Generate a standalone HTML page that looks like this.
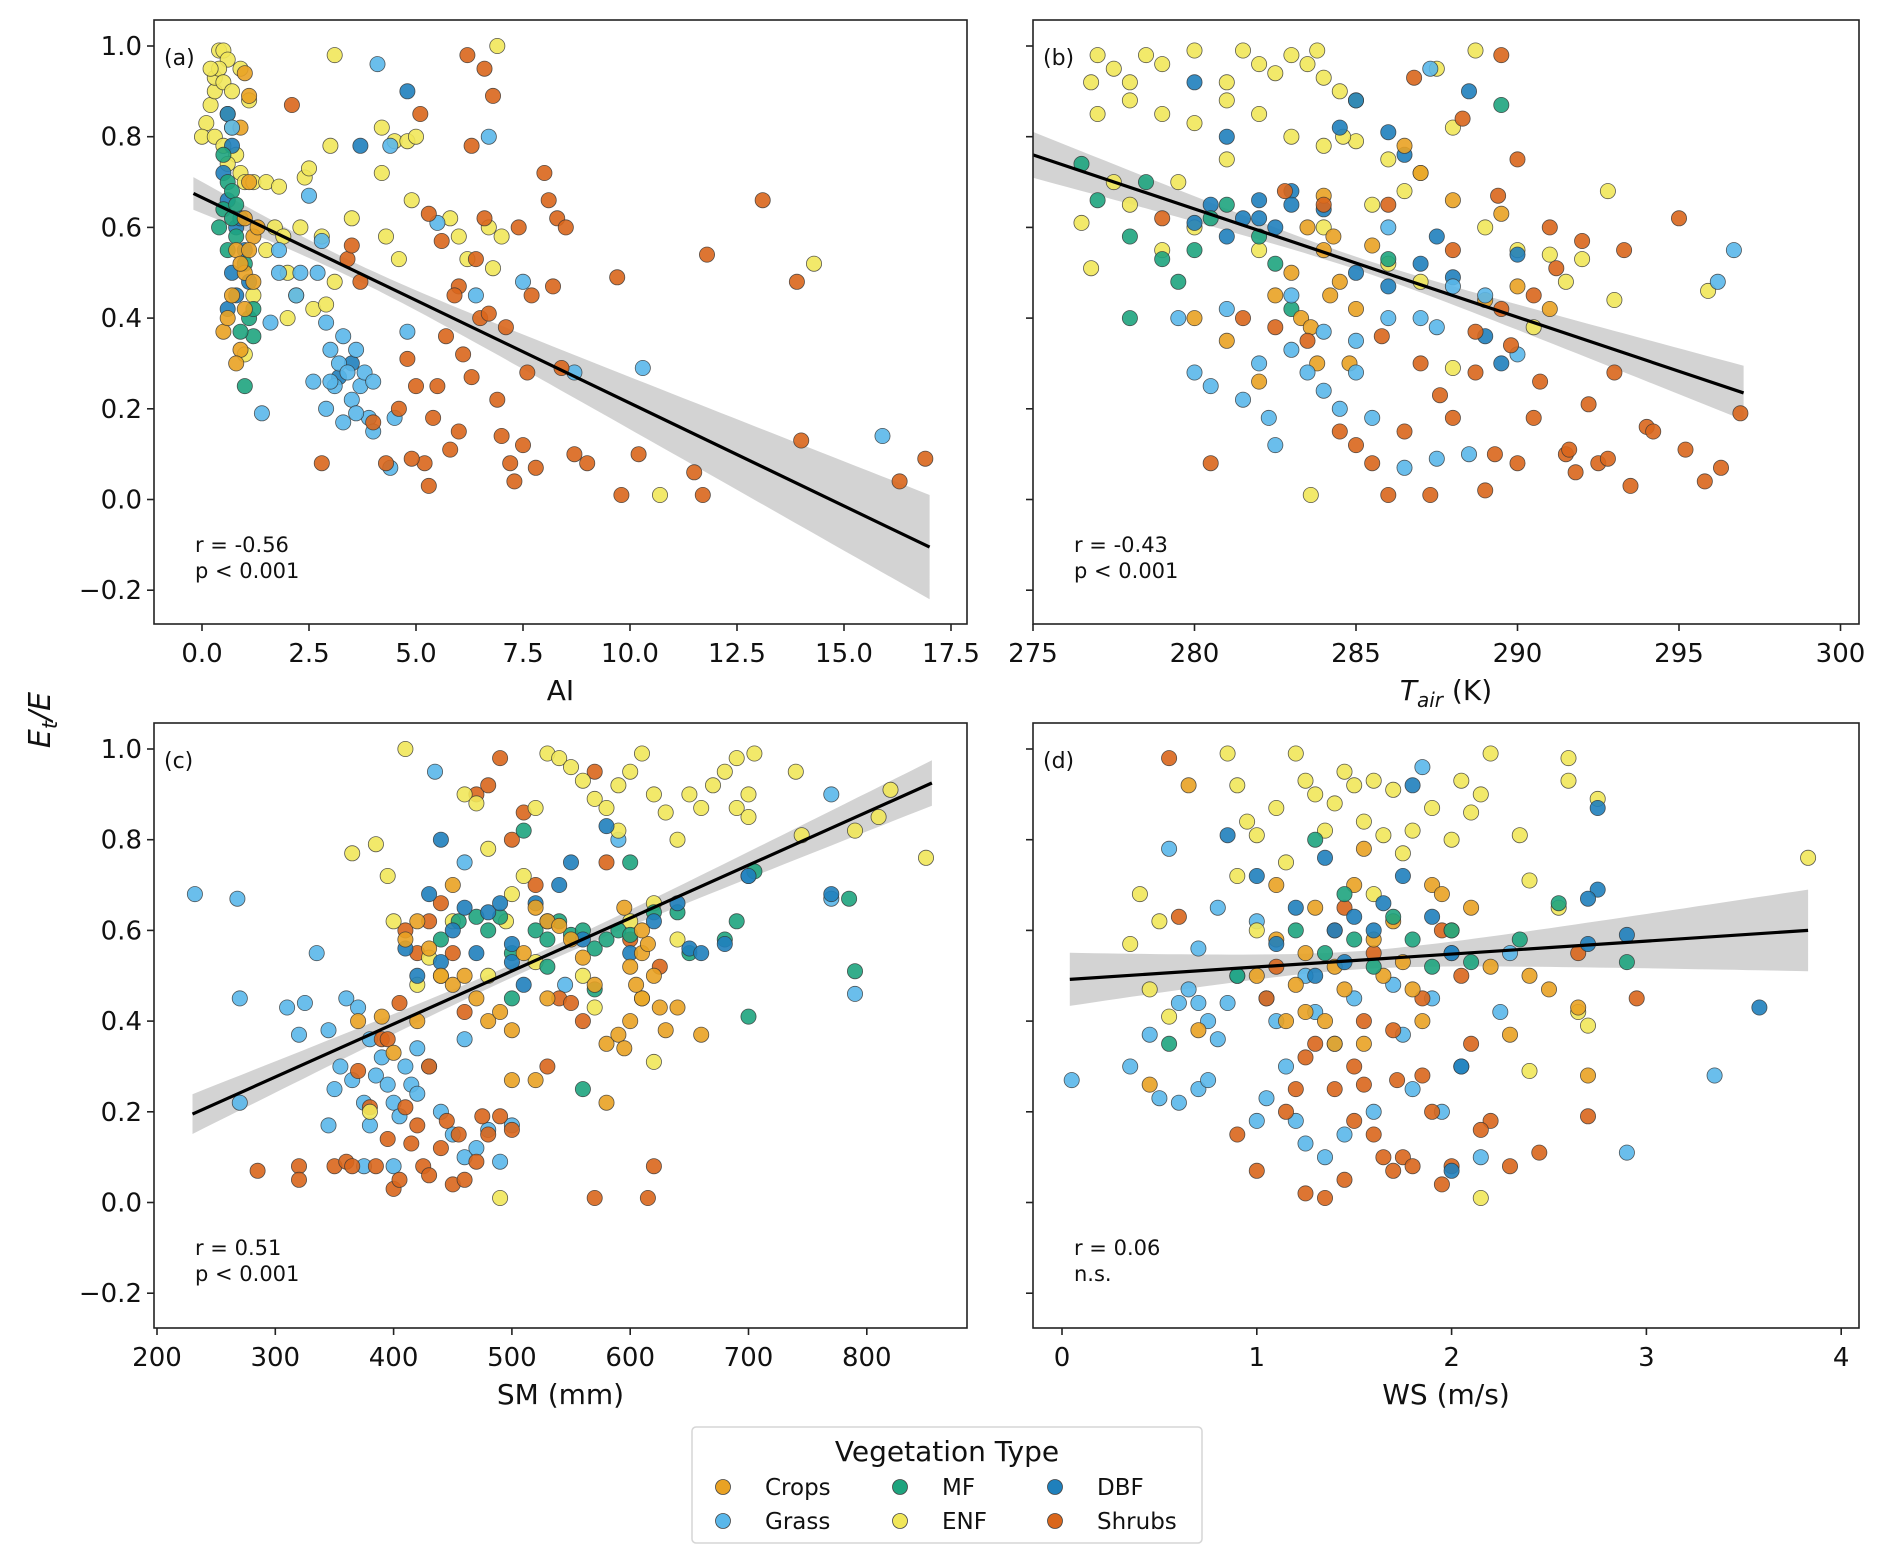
<!DOCTYPE html>
<html><head><meta charset="utf-8"><style>
body{margin:0;background:#fff;}
svg{display:block;font-family:"DejaVu Sans","Liberation Sans",sans-serif;}
</style></head><body>
<svg id="chart" width="1892" height="1565" viewBox="0 0 1892 1565" xmlns="http://www.w3.org/2000/svg"></svg>
<script>
// ---- data (x, y, category code) ----
const catCodes = ["G","C","M","D","E","S"];
const catNames = {C:"Crops",G:"Grass",M:"MF",E:"ENF",D:"DBF",S:"Shrubs"};
const catColors = {C:"#e9a224",G:"#5ab7ea",M:"#1ea47e",E:"#f1e75a",D:"#1f80bc",S:"#d9661c"};

const aX = [0.1,0.0,0.2,0.3,0.3,0.4,0.5,0.6,0.4,0.5,0.7,0.6,0.7,0.3,0.5,0.8,0.9,1.0,1.2,1.5,1.8,2.4,2.5,3.0,3.1,4.2,4.5,4.8,5.0,4.2,1.1,0.9,1.5,1.7,2.0,2.2,2.6,2.9,3.1,1.2,1.0,4.6,4.9,5.8,6.2,6.8,6.7,6.9,7.0,10.7,14.3,2.8,3.5,4.3,2.0,1.9,6.0,0.2,0.9,0.6,2.3,
0.6,0.7,0.5,0.8,1.0,0.7,0.6,0.9,1.1,3.7,4.8,0.6,0.8,3.5,3.2,
0.5,0.6,0.7,0.5,0.8,1.0,0.6,1.1,1.2,0.9,1.0,0.8,0.7,1.2,0.4,
1.0,1.1,0.9,1.1,1.0,1.2,0.8,1.0,0.7,1.0,0.5,0.9,1.2,1.3,0.8,0.6,1.1,0.9,
1.4,0.7,1.6,1.8,2.2,2.5,2.8,3.9,2.9,3.1,3.2,3.4,3.5,3.6,3.0,3.3,3.7,3.8,4.0,3.3,2.6,3.6,4.1,4.4,6.7,5.5,6.4,7.5,4.5,4.4,4.8,8.7,10.3,15.9,2.3,1.8,4.0,3.0,2.9,2.7,
2.1,2.8,3.4,3.5,3.7,4.0,4.3,4.6,4.8,5.0,5.1,5.3,5.4,5.6,5.8,6.0,6.1,6.2,6.3,6.5,6.6,6.7,6.8,6.9,7.0,7.2,7.3,7.4,7.5,7.6,7.8,8.0,8.1,8.3,8.5,8.2,8.7,9.0,9.7,9.8,10.2,11.5,11.7,11.8,13.1,13.9,14.0,16.3,16.9,5.2,5.5,6.0,4.9,6.4,5.7,6.3,8.4,7.1,5.9,5.3,6.6,7.7];
const aY = [0.83,0.80,0.87,0.90,0.93,0.99,0.99,0.97,0.95,0.92,0.90,0.85,0.82,0.80,0.78,0.76,0.72,0.70,0.70,0.70,0.69,0.71,0.73,0.78,0.98,0.82,0.79,0.79,0.80,0.72,0.88,0.62,0.55,0.60,0.50,0.45,0.42,0.43,0.48,0.45,0.32,0.53,0.66,0.62,0.53,0.51,0.60,1.0,0.58,0.01,0.52,0.58,0.62,0.58,0.40,0.58,0.58,0.95,0.95,0.74,0.60,
0.85,0.78,0.72,0.60,0.55,0.50,0.42,0.62,0.48,0.78,0.90,0.66,0.45,0.30,0.27,
0.76,0.70,0.68,0.64,0.58,0.52,0.55,0.40,0.36,0.37,0.25,0.65,0.62,0.42,0.60,
0.94,0.89,0.82,0.70,0.62,0.58,0.55,0.50,0.45,0.42,0.37,0.33,0.48,0.60,0.30,0.40,0.55,0.52,
0.19,0.82,0.39,0.55,0.45,0.67,0.57,0.18,0.20,0.25,0.30,0.28,0.22,0.33,0.33,0.36,0.25,0.28,0.26,0.17,0.26,0.19,0.96,0.78,0.80,0.61,0.45,0.48,0.18,0.07,0.37,0.28,0.29,0.14,0.50,0.50,0.15,0.26,0.39,0.50,
0.87,0.08,0.53,0.56,0.48,0.17,0.08,0.20,0.31,0.25,0.85,0.63,0.18,0.57,0.11,0.47,0.32,0.98,0.78,0.40,0.95,0.41,0.89,0.22,0.14,0.08,0.04,0.60,0.12,0.28,0.07,0.72,0.66,0.62,0.60,0.47,0.10,0.08,0.49,0.01,0.10,0.06,0.01,0.54,0.66,0.48,0.13,0.04,0.09,0.08,0.25,0.15,0.09,0.53,0.36,0.27,0.29,0.38,0.45,0.03,0.62,0.45];
const aC = "E".repeat(61)+"D".repeat(15)+"M".repeat(15)+"C".repeat(18)+"G".repeat(40)+"S".repeat(62);

const bX = [277,277.5,278,278.5,279,280,281.5,282,282.5,281,283,283.5,284,284.5,285,283.8,276.8,277,278,279,280,281,282,283,284,285,286,287,276.5,276.8,277.5,278,279,280,282,284,286,287,288,288.7,289,290,291,292,292.8,293,295.9,288,283.6,290.5,291.5,281,279.5,285.5,286.5,287.5,284.6,
280,281,280.5,281.5,282,282.5,283,284,284.5,285,286,286.5,287,287.5,288,288.5,289,290,283,282,281,280,286,289.5,285,
276.5,277,278,278.5,279,279.5,280,280.5,281,282,278,282.5,289.5,283,286,
282.5,283,283.3,283.6,284,284.2,283.8,284.5,285,283.5,284.3,286.5,287,288,289,290,291,281,280,284,285.5,282,284.8,289.5,
279.5,280,280.5,281,282,282.3,282.5,283,283.5,284,284.5,285,285.5,286,287,287.5,286.5,287.5,288.5,289,290,296.7,296.2,287.3,286,284,281.5,283,285,288,
279,280.5,281.5,282.5,283.5,284.5,285,285.5,286,286.5,287,287.3,288,288.3,288.7,289,289.3,289.5,289.8,290,290,290.5,291,291.5,291.8,292,292.2,292.5,293,293.3,293.5,294,295,295.2,295.8,296.3,296.9,289.5,290.5,288,286,284,282.8,286.8,290.7,291.2,289.4,288.7,285.8,287.6,291.6,292.8,294.2];
const bY = [0.98,0.95,0.92,0.98,0.96,0.99,0.99,0.96,0.94,0.92,0.98,0.96,0.93,0.90,0.88,0.99,0.92,0.85,0.88,0.85,0.83,0.88,0.85,0.80,0.78,0.79,0.75,0.72,0.61,0.51,0.70,0.65,0.55,0.60,0.55,0.60,0.52,0.48,0.82,0.99,0.60,0.55,0.54,0.53,0.68,0.44,0.46,0.29,0.01,0.38,0.48,0.75,0.70,0.65,0.68,0.95,0.80,
0.92,0.80,0.65,0.62,0.66,0.60,0.68,0.64,0.82,0.88,0.81,0.76,0.52,0.58,0.49,0.90,0.36,0.54,0.65,0.62,0.58,0.61,0.47,0.30,0.50,
0.74,0.66,0.58,0.70,0.53,0.48,0.55,0.62,0.65,0.58,0.40,0.52,0.87,0.42,0.53,
0.45,0.50,0.40,0.38,0.55,0.45,0.30,0.48,0.42,0.60,0.58,0.78,0.72,0.66,0.44,0.47,0.42,0.35,0.40,0.67,0.56,0.26,0.30,0.63,
0.40,0.28,0.25,0.42,0.30,0.18,0.12,0.33,0.28,0.24,0.20,0.35,0.18,0.40,0.40,0.38,0.07,0.09,0.10,0.45,0.32,0.55,0.48,0.95,0.60,0.37,0.22,0.45,0.28,0.47,
0.62,0.08,0.40,0.38,0.35,0.15,0.12,0.08,0.01,0.15,0.30,0.01,0.18,0.84,0.28,0.02,0.10,0.98,0.34,0.75,0.08,0.18,0.60,0.10,0.06,0.57,0.21,0.08,0.28,0.55,0.03,0.16,0.62,0.11,0.04,0.07,0.19,0.42,0.45,0.55,0.65,0.65,0.68,0.93,0.26,0.51,0.67,0.37,0.36,0.23,0.11,0.09,0.15];
const bC = "E".repeat(57)+"D".repeat(25)+"M".repeat(15)+"C".repeat(24)+"G".repeat(30)+"S".repeat(53);

const cX = [232,268,270,270,310,320,325,335,345,350,355,360,365,370,375,380,385,390,395,400,405,410,415,420,430,440,450,460,470,480,490,500,380,400,435,460,700,770,790,770,545,345,375,420,460,590,
285,320,320,350,360,370,380,385,390,395,400,405,410,415,420,425,430,440,445,450,455,460,470,475,480,490,500,410,420,430,440,450,470,480,490,500,510,530,540,550,560,570,570,580,600,615,620,625,520,460,395,365,430,405,
365,385,395,400,410,420,430,440,450,460,470,480,490,495,500,510,520,530,540,550,560,570,580,590,600,610,620,630,640,650,660,670,680,690,700,705,690,700,740,745,790,810,820,850,620,600,570,560,610,620,480,380,590,640,520,
440,455,470,480,490,500,510,520,530,540,550,560,570,580,590,600,620,640,650,680,690,700,705,785,790,570,560,600,500,530,
410,420,430,440,450,460,470,480,490,500,510,520,530,540,550,560,580,600,620,640,650,660,680,700,770,440,500,
410,420,430,440,450,460,470,480,490,500,510,520,530,540,550,560,570,580,590,600,610,620,630,640,660,580,500,520,610,595,600,605,615,595,610,625,450,420,400,530,390,370];
const cY = [0.68,0.67,0.45,0.22,0.43,0.37,0.44,0.55,0.38,0.25,0.30,0.45,0.27,0.43,0.22,0.36,0.28,0.32,0.26,0.22,0.19,0.30,0.26,0.24,0.30,0.20,0.15,0.10,0.12,0.16,0.09,0.17,0.17,0.08,0.95,0.75,0.72,0.67,0.46,0.90,0.48,0.17,0.08,0.34,0.36,0.80,
0.07,0.08,0.05,0.08,0.09,0.29,0.21,0.08,0.36,0.14,0.03,0.05,0.21,0.13,0.17,0.08,0.06,0.12,0.18,0.04,0.15,0.05,0.09,0.19,0.15,0.19,0.16,0.60,0.55,0.62,0.66,0.55,0.90,0.92,0.98,0.80,0.86,0.30,0.45,0.44,0.40,0.01,0.95,0.75,0.58,0.01,0.08,0.52,0.70,0.42,0.36,0.08,0.30,0.44,
0.77,0.79,0.72,0.62,1.0,0.48,0.54,0.50,0.62,0.90,0.88,0.78,0.01,0.62,0.68,0.72,0.87,0.99,0.98,0.96,0.93,0.89,0.87,0.92,0.95,0.99,0.90,0.86,0.80,0.90,0.87,0.92,0.95,0.98,0.90,0.99,0.87,0.85,0.95,0.81,0.82,0.85,0.91,0.76,0.66,0.62,0.43,0.50,0.45,0.31,0.50,0.20,0.82,0.58,0.53,
0.58,0.62,0.63,0.60,0.63,0.55,0.82,0.60,0.52,0.62,0.59,0.60,0.56,0.58,0.60,0.59,0.64,0.64,0.55,0.58,0.62,0.41,0.73,0.67,0.51,0.47,0.25,0.75,0.45,0.58,
0.56,0.50,0.68,0.80,0.60,0.65,0.55,0.64,0.66,0.53,0.48,0.66,0.62,0.70,0.75,0.58,0.83,0.55,0.62,0.66,0.56,0.55,0.57,0.72,0.68,0.53,0.57,
0.58,0.40,0.56,0.50,0.48,0.50,0.45,0.40,0.42,0.38,0.55,0.65,0.62,0.61,0.58,0.54,0.48,0.35,0.37,0.40,0.45,0.50,0.38,0.43,0.37,0.22,0.27,0.27,0.55,0.65,0.52,0.48,0.57,0.34,0.60,0.43,0.70,0.62,0.33,0.45,0.41,0.40];
const cC = "G".repeat(46)+"S".repeat(54)+"E".repeat(55)+"M".repeat(30)+"D".repeat(27)+"C".repeat(42);

const dX = [0.05,0.5,0.6,0.7,0.75,0.8,0.85,0.6,0.65,0.75,0.7,0.55,0.8,0.9,1.0,1.05,1.1,1.15,1.2,1.25,1.3,1.35,1.4,1.45,1.5,1.6,1.7,1.75,1.8,1.85,1.9,1.95,2.0,2.05,2.15,2.25,2.3,3.35,2.9,0.35,0.45,0.7,1.0,1.25,1.05,
0.55,0.6,0.9,1.0,1.05,1.1,1.15,1.2,1.25,1.3,1.35,1.4,1.45,1.5,1.55,1.6,1.65,1.7,1.72,1.75,1.8,1.85,1.9,1.95,2.0,2.05,2.1,2.2,2.3,2.45,2.65,2.7,2.95,1.45,1.6,1.7,1.5,1.85,1.55,1.95,1.4,2.15,1.25,
0.4,0.35,0.45,0.5,0.85,0.9,0.95,1.0,1.1,1.15,1.2,1.25,1.3,1.35,1.4,1.45,1.5,1.55,1.6,1.65,1.7,1.75,1.8,1.9,2.0,2.05,2.1,2.15,2.2,2.35,2.4,2.55,2.6,2.65,2.7,2.75,2.6,3.83,2.15,2.4,1.0,0.55,0.9,1.6,
0.45,0.65,0.7,1.0,1.1,1.15,1.2,1.25,1.3,1.35,1.4,1.45,1.5,1.55,1.6,1.65,1.7,1.75,1.8,1.85,1.9,1.95,2.0,2.1,2.2,2.3,2.4,2.5,2.65,2.7,1.25,1.4,1.55,1.1,
0.55,0.9,1.2,1.35,1.5,1.6,1.7,1.8,1.9,2.0,2.1,2.35,2.55,2.9,1.3,1.45,
0.85,1.0,1.1,1.2,1.3,1.35,1.4,1.45,1.5,1.6,1.65,1.75,1.8,1.9,2.0,2.05,2.7,2.75,2.75,2.9,3.58,2.0,2.7];
const dY = [0.27,0.23,0.22,0.25,0.27,0.36,0.44,0.44,0.47,0.40,0.56,0.78,0.65,0.50,0.62,0.45,0.40,0.30,0.18,0.13,0.42,0.10,0.35,0.15,0.45,0.20,0.48,0.37,0.25,0.96,0.45,0.20,0.55,0.30,0.10,0.42,0.55,0.28,0.11,0.30,0.37,0.44,0.18,0.50,0.23,
0.98,0.63,0.15,0.07,0.45,0.52,0.20,0.25,0.02,0.35,0.01,0.60,0.05,0.30,0.40,0.15,0.10,0.07,0.27,0.10,0.08,0.45,0.20,0.60,0.08,0.50,0.35,0.18,0.08,0.11,0.55,0.19,0.45,0.65,0.55,0.38,0.18,0.28,0.26,0.04,0.25,0.16,0.32,
0.68,0.57,0.47,0.62,0.99,0.92,0.84,0.81,0.87,0.75,0.99,0.93,0.90,0.82,0.88,0.95,0.92,0.84,0.93,0.81,0.91,0.77,0.82,0.87,0.80,0.93,0.86,0.90,0.99,0.81,0.71,0.65,0.98,0.42,0.39,0.89,0.93,0.76,0.01,0.29,0.60,0.41,0.72,0.68,
0.26,0.92,0.38,0.50,0.58,0.40,0.48,0.55,0.65,0.40,0.52,0.47,0.70,0.35,0.58,0.50,0.62,0.53,0.47,0.40,0.70,0.68,0.60,0.65,0.52,0.37,0.50,0.47,0.43,0.28,0.42,0.35,0.78,0.70,
0.35,0.50,0.60,0.55,0.58,0.52,0.63,0.58,0.52,0.60,0.53,0.58,0.66,0.53,0.80,0.68,
0.81,0.72,0.57,0.65,0.50,0.76,0.60,0.53,0.63,0.60,0.66,0.72,0.92,0.63,0.55,0.30,0.57,0.87,0.69,0.59,0.43,0.07,0.67];
const dC = "G".repeat(45)+"S".repeat(43)+"E".repeat(44)+"C".repeat(34)+"M".repeat(16)+"D".repeat(23);

// regression: [x0, x1, intercept-at-x0 y0, y1], band [xm, minHalf, edgeHalf at farthest end]
const fitA = [-0.2, 17, 0.675, -0.105], bandA = [3.5, 0.018, 0.115];
const fitB = [275, 297, 0.76, 0.235],   bandB = [285, 0.014, 0.06];
const fitC = [230, 855, 0.195, 0.925],  bandC = [520, 0.014, 0.05];
const fitD = [0.04, 3.83, 0.492, 0.60], bandD = [1.5, 0.02, 0.09];

const ticksA = [0,2.5,5,7.5,10,12.5,15,17.5], ticksAL = ["0.0","2.5","5.0","7.5","10.0","12.5","15.0","17.5"];
const ticksB = [275,280,285,290,295,300], ticksBL = ["275","280","285","290","295","300"];
const ticksC = [200,300,400,500,600,700,800], ticksCL = ["200","300","400","500","600","700","800"];
const ticksD = [0,1,2,3,4], ticksDL = ["0","1","2","3","4"];
const yTicks = [-0.2,0,0.2,0.4,0.6,0.8,1.0], yTicksL = ["\u22120.2","0.0","0.2","0.4","0.6","0.8","1.0"];

const svg = document.getElementById('chart');
const NS = "http://www.w3.org/2000/svg";
function mk(tag, attrs, parent){const e=document.createElementNS(NS,tag);for(const k in attrs)e.setAttribute(k,attrs[k]);(parent||svg).appendChild(e);return e;}

const panels = [
 {id:"a",L:154,R:967,T:20,B:624,x0:0,px0:202,kx:42.8,X:aX,Y:aY,C:aC,fit:fitA,band:bandA,ticks:ticksA,tl:ticksAL,ylab:true,lab:"(a)",r:"r = -0.56",p:"p < 0.001",xl:"AI"},
 {id:"b",L:1033,R:1859,T:20,B:624,x0:275,px0:1033,kx:32.3,X:bX,Y:bY,C:bC,fit:fitB,band:bandB,ticks:ticksB,tl:ticksBL,ylab:false,lab:"(b)",r:"r = -0.43",p:"p < 0.001",xl:"tair"},
 {id:"c",L:154,R:967,T:723,B:1328,x0:200,px0:157,kx:1.183,X:cX,Y:cY,C:cC,fit:fitC,band:bandC,ticks:ticksC,tl:ticksCL,ylab:true,lab:"(c)",r:"r = 0.51",p:"p < 0.001",xl:"SM (mm)"},
 {id:"d",L:1033,R:1859,T:723,B:1328,x0:0,px0:1062,kx:194.8,X:dX,Y:dY,C:dC,fit:fitD,band:bandD,ticks:ticksD,tl:ticksDL,ylab:false,lab:"(d)",r:"r = 0.06",p:"n.s.",xl:"WS (m/s)"}
];

panels.forEach(P=>{
  const g = mk('g',{});
  
  
  const y1px = P.T+26, ky = 453.5;
  const sx = v => P.px0 + (v-P.x0)*P.kx;
  const sy = v => y1px + (1-v)*ky;
  const clipId='clip'+P.id;
  const cp = mk('clipPath',{id:clipId},g); mk('rect',{x:P.L,y:P.T,width:P.R-P.L,height:P.B-P.T},cp);
  // band
  const [xa,xb,ya,yb]=P.fit, [xm,h0,he]=P.band;
  const slope=(yb-ya)/(xb-xa);
  const far=Math.max(Math.abs(xa-xm),Math.abs(xb-xm));
  const k=Math.sqrt(Math.max(he*he-h0*h0,0))/far;
  const up=[],lo=[];
  for(let i=0;i<=60;i++){const x=xa+(xb-xa)*i/60;const y=ya+slope*(x-xa);const h=Math.sqrt(h0*h0+k*k*(x-xm)*(x-xm));up.push(sx(x).toFixed(1)+','+sy(y+h).toFixed(1));lo.unshift(sx(x).toFixed(1)+','+sy(y-h).toFixed(1));}
  const band=mk('polygon',{points:up.concat(lo).join(' '),fill:'#d3d3d3','clip-path':`url(#${clipId})`},g);
  
  
  // points
  const pg=mk('g',{'clip-path':`url(#${clipId})`},g);
  for(let i=0;i<P.X.length;i++){
    const c=P.C[i];
    const dot=mk('circle',{cx:sx(P.X[i]).toFixed(1),cy:sy(P.Y[i]).toFixed(1),r:7.6,fill:catColors[c],'fill-opacity':0.9,stroke:'#333','stroke-width':0.8,'stroke-opacity':0.8},pg);
    
    
  }
  // line
  const ln=mk('line',{x1:sx(xa),y1:sy(ya),x2:sx(xb),y2:sy(yb),stroke:'#000','stroke-width':3.2},g);
  
  
  // frame
  const fr=mk('rect',{x:P.L,y:P.T,width:P.R-P.L,height:P.B-P.T,fill:'none',stroke:'#222','stroke-width':1.6},g);
  
  
  // x ticks
  P.ticks.forEach((t,i)=>{
    const x=sx(t);
    mk('line',{x1:x,y1:P.B,x2:x,y2:P.B+7,stroke:'#222','stroke-width':1.6},g);
    const tx=mk('text',{x:x,y:P.B+38,'font-size':26,'text-anchor':'middle',fill:'#111'},g);
    tx.textContent=P.tl[i];
    
    
  });
  // y ticks
  yTicks.forEach((t,i)=>{
    const y=sy(t);
    mk('line',{x1:P.L-7,y1:y,x2:P.L,y2:y,stroke:'#222','stroke-width':1.6},g);
    if(P.ylab){
      const tx=mk('text',{x:P.L-12,y:y+9,'font-size':26,'text-anchor':'end',fill:'#111'},g);
      tx.textContent=yTicksL[i];
      
      
    }
  });
  const lb=mk('text',{x:P.L+10,y:P.T+45,'font-size':22,fill:'#111'},g); lb.textContent=P.lab;
  
  
  const rt=mk('text',{x:P.L+41,y:P.T+532,'font-size':21,fill:'#111'},g); rt.textContent=P.r;
  
  
  const pt=mk('text',{x:P.L+41,y:P.T+558,'font-size':21,fill:'#111'},g); pt.textContent=P.p;
  
  
  const xc=(P.L+P.R)/2, xy=P.B+76;
  const xl=mk('text',{x:xc,y:xy,'font-size':28,'text-anchor':'middle',fill:'#111'},g);
  if(P.xl==="tair"){
    const a=mk('tspan',{'font-style':'italic'},xl);a.textContent='T';
    const b=mk('tspan',{'font-style':'italic','font-size':20,dy:7},xl);b.textContent='air';
    const c2=mk('tspan',{dy:-7},xl);c2.textContent=' (K)';
  } else xl.textContent=P.xl;
  
  
});

// y axis title
const yt=mk('text',{x:0,y:0,'font-size':30,'text-anchor':'middle',fill:'#111',transform:'translate(50,720) rotate(-90)','font-style':'italic'});
const t1=mk('tspan',{},yt);t1.textContent='E';
const t2=mk('tspan',{'font-size':21,dy:7},yt);t2.textContent='t';
const t3=mk('tspan',{dy:-7},yt);t3.textContent='/E';



// legend
const lg=mk('g',{});


mk('rect',{x:692,y:1427,width:510,height:116,rx:4,fill:'#fff',stroke:'#d5d5d5','stroke-width':1.5},lg);
const ltt=mk('text',{x:947,y:1461,'font-size':28,'text-anchor':'middle',fill:'#111'},lg);ltt.textContent='Vegetation Type';


const legOrder=[["C",723,765,1487],["G",723,765,1521],["M",900,942,1487],["E",900,942,1521],["D",1055,1097,1487],["S",1055,1097,1521]];
legOrder.forEach(([c,mx,tx,y])=>{
  const e=mk('g',{},lg);
  
  
  mk('circle',{cx:mx,cy:y,r:7.5,fill:catColors[c],stroke:'#444','stroke-width':0.8},e);
  const t=mk('text',{x:tx,y:y+8,'font-size':23,fill:'#111'},e);t.textContent=catNames[c];
});
</script>
</body></html>
